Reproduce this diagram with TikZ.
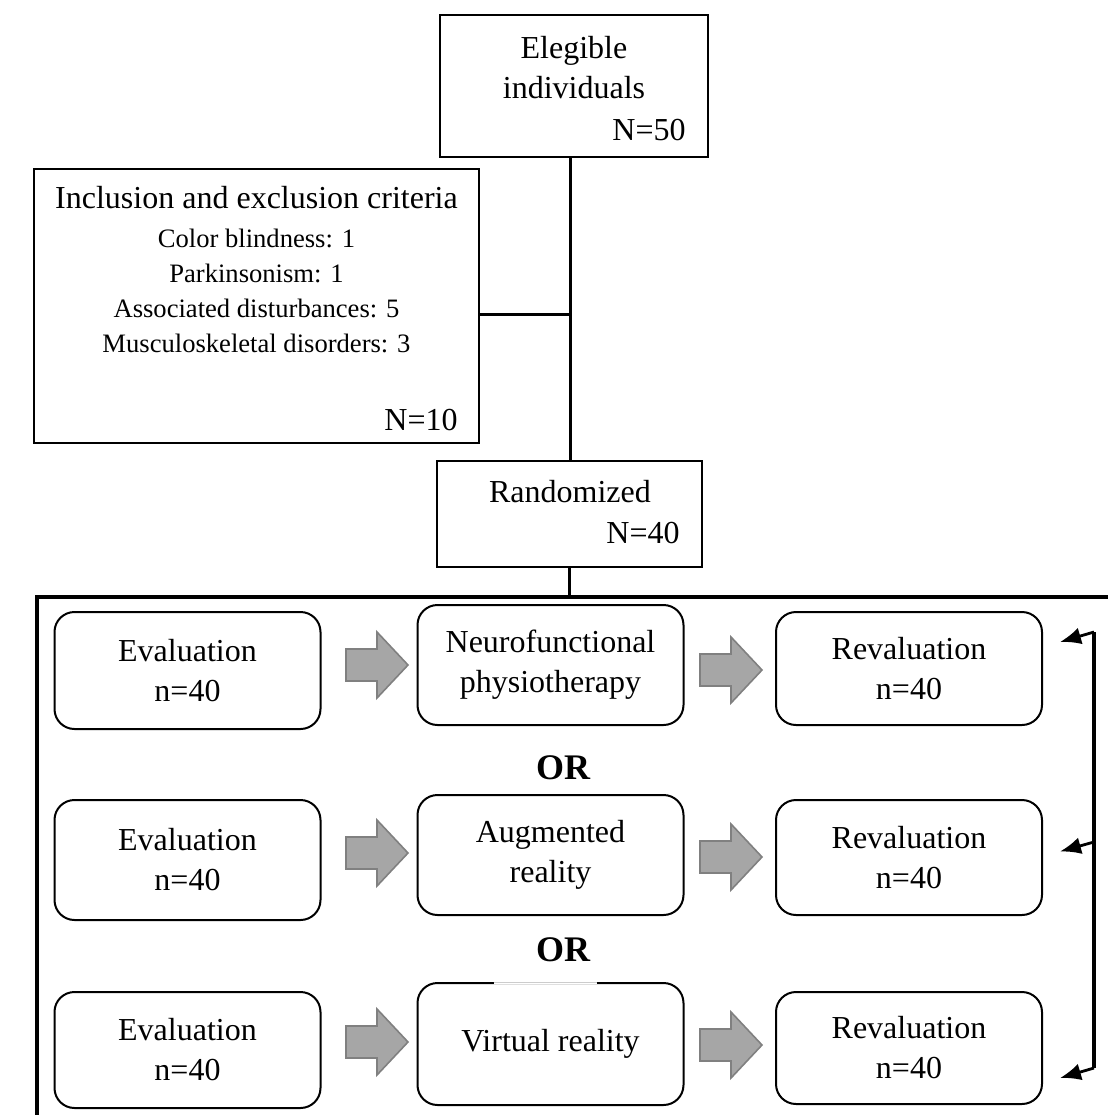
\documentclass[tikz,border=0pt]{standalone}
\usepackage{fontspec}
\setmainfont{Liberation Serif}
\usepackage{xcolor}
\usetikzlibrary{arrows.meta,calc}

\definecolor{arrgray}{HTML}{A6A6A6}
\definecolor{arrline}{HTML}{808080}
\newcommand{\txtbig}{\fontsize{16}{20}\selectfont}
\newcommand{\txtsmall}{\fontsize{13.3}{17.5}\selectfont}

\begin{document}
\begin{tikzpicture}[x=0.5pt, y=-0.5pt,
  sqbox/.style={draw, line width=0.8pt, inner sep=0pt},
  rbox/.style={draw, line width=1pt, rounded corners=10pt, inner sep=0pt,
    align=center, font=\txtbig, minimum width=133pt},
  txt/.style={inner sep=0pt, align=center, font=\txtbig},
  small/.style={inner sep=0pt, align=center, font=\txtsmall},
  ortxt/.style={inner sep=0pt, font=\fontsize{18}{20}\selectfont\bfseries},
  link/.style={line width=1.5pt},
  frame/.style={line width=1.8pt},
  back/.style={line width=1.4pt, -{Latex[length=10.5pt,width=8.5pt]}},
  grayarr/.pic={\filldraw[fill=arrgray, draw=arrline, line width=0.8pt]
    (-31,-16) -- (0,-16) -- (0,-33) -- (31,0) -- (0,33) -- (0,16) -- (-31,16) -- cycle;}
]
\useasboundingbox (0,0) rectangle (1108,1115);

% Elegible individuals
\node[sqbox, minimum width=134pt, minimum height=71pt] (elig) at (574,86) {};
\node[txt] (eligtxt) at (574,68) {Elegible\\individuals};
\node[txt, anchor=east] (eligN) at (686,130) {N=50};

% Inclusion and exclusion criteria
\node[sqbox, minimum width=222.5pt, minimum height=137pt] (incl) at (256.5,306) {};
\node[txt] (incltit) at (256.5,198) {Inclusion and exclusion criteria};
\node[small] (incllist) at (256.5,291) {Color blindness: 1\\Parkinsonism: 1\\Associated disturbances: 5\\Musculoskeletal disorders: 3};
\node[txt, anchor=east] (inclN) at (458,420) {N=10};

% Randomized
\node[sqbox, minimum width=132.5pt, minimum height=53pt] (rand) at (569.5,514) {};
\node[txt] (randtxt) at (570,492) {Randomized};
\node[txt, anchor=east] (randN) at (680,533) {N=40};

% flow lines
\coordinate (jn) at (570,314);
\draw[link] (jn |- elig.south) -- (jn |- rand.north);
\draw[link] (incl.east |- jn) -- (jn);

% groups frame
\coordinate (fc) at (37,597);
\draw[frame] (37,1115) -- (fc) -- (1108,597);
\draw[link] (rand.south) -- (rand.south |- fc);

% row 1
\node[rbox, minimum height=58.5pt] (ev1) at (187.5,670.5) {Evaluation\\n=40};
\node[rbox, minimum height=60pt] (nf1) at (550.5,665) {Neurofunctional\\physiotherapy};
\node[rbox, minimum height=56.5pt] (rv1) at (909,668.5) {Revaluation\\n=40};
\pic at (377,665) {grayarr};
\pic at (731,670) {grayarr};

\node[ortxt] (or1) at (563,768) {OR};

% row 2
\node[rbox, minimum height=60pt] (ev2) at (187.5,860) {Evaluation\\n=40};
\node[rbox, minimum height=60pt] (ag2) at (550.5,855) {Augmented\\reality};
\node[rbox, minimum height=57.5pt] (rv2) at (909,857.5) {Revaluation\\n=40};
\pic at (377,853) {grayarr};
\pic at (731,857) {grayarr};

\node[ortxt] (or2) at (563,950) {OR};

% row 3
\node[rbox, minimum height=58pt] (ev3) at (187.5,1050) {Evaluation\\n=40};
\node[rbox, minimum height=61pt] (vr3) at (550.5,1044) {Virtual reality};
\node[rbox, minimum height=56pt] (rv3) at (909,1048) {Revaluation\\n=40};
\pic at (377,1042) {grayarr};
\pic at (731,1045) {grayarr};
\draw[white, line width=1.6pt] ($(vr3.north)+(-57,0)$) -- ($(vr3.north)+(46,0)$);
\draw[gray!40, line width=0.5pt] ($(vr3.north)+(-57,0)$) -- ($(vr3.north)+(46,0)$);

% back to revaluation
\coordinate (btop) at (1094,632);
\coordinate (bmid) at (1094,842);
\coordinate (bbot) at (1094,1068);
\draw[line width=1.7pt] (btop) -- (bbot);
\draw[back] (btop) -- ($(rv1.north east)+(17,31)$);
\draw[back] (bmid) -- ($(rv2.east)+(17,-6)$);
\draw[back] (bbot) -- ($(rv3.east)+(17,30)$);

\end{tikzpicture}
\end{document}
